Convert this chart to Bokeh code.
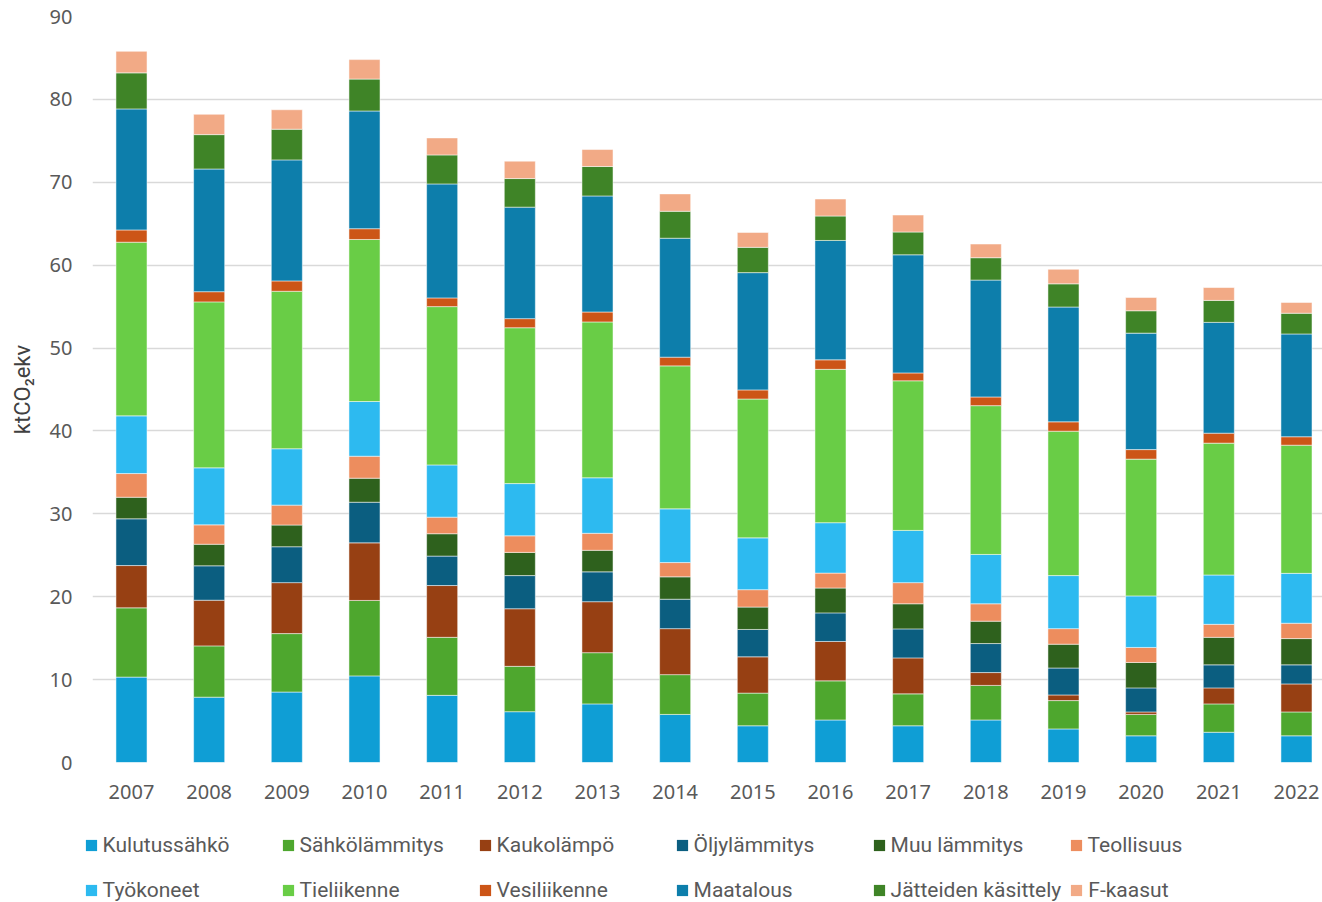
from bokeh.plotting import figure
from bokeh.layouts import column
from bokeh.models import Range1d, FixedTicker, Legend, LegendItem, ColumnDataSource
from bokeh.embed import file_html
from bokeh.resources import INLINE

years = ["2007", "2008", "2009", "2010", "2011", "2012", "2013", "2014",
         "2015", "2016", "2017", "2018", "2019", "2020", "2021", "2022"]

kulutussahko   = [10.3, 7.88, 8.5, 10.45, 8.1, 6.13, 7.07, 5.8, 4.43, 5.13, 4.43, 5.13, 4.05, 3.22, 3.65, 3.22]
sahkolammitys  = [8.36, 6.19, 7.05, 9.1, 7.0, 5.47, 6.18, 4.8, 3.94, 4.72, 3.85, 4.17, 3.42, 2.58, 3.42, 2.88]
kaukolampo     = [5.1, 5.51, 6.15, 6.95, 6.25, 6.95, 6.15, 5.55, 4.38, 4.75, 4.34, 1.55, 0.68, 0.3, 1.93, 3.38]
oljylammitys   = [5.64, 4.15, 4.33, 4.9, 3.55, 4.0, 3.6, 3.55, 3.3, 3.45, 3.5, 3.5, 3.25, 2.9, 2.78, 2.3]
muu_lammitys   = [2.6, 2.6, 2.62, 2.9, 2.7, 2.8, 2.6, 2.7, 2.7, 3.0, 3.03, 2.7, 2.87, 3.07, 3.32, 3.17]
teollisuus     = [2.86, 2.34, 2.4, 2.65, 2.0, 2.0, 2.05, 1.72, 2.1, 1.8, 2.55, 2.1, 1.88, 1.81, 1.57, 1.85]
tyokoneet      = [6.96, 6.88, 6.8, 6.6, 6.3, 6.3, 6.7, 6.48, 6.25, 6.08, 6.3, 5.95, 6.4, 6.22, 5.95, 6.02]
tieliikenne    = [20.95, 20.02, 19.0, 19.55, 19.1, 18.8, 18.8, 17.25, 16.75, 18.5, 18.05, 17.95, 17.42, 16.5, 15.91, 15.46]
vesiliikenne   = [1.48, 1.23, 1.25, 1.3, 1.05, 1.1, 1.2, 1.05, 1.1, 1.15, 0.95, 1.05, 1.13, 1.15, 1.2, 1.02]
maatalous      = [14.6, 14.8, 14.6, 14.2, 13.75, 13.45, 14.0, 14.35, 14.15, 14.4, 14.25, 14.1, 13.85, 14.05, 13.37, 12.4]
jatteiden      = [4.35, 4.15, 3.7, 3.85, 3.5, 3.45, 3.55, 3.25, 3.05, 2.95, 2.75, 2.7, 2.8, 2.7, 2.65, 2.5]
f_kaasut       = [2.6, 2.45, 2.35, 2.35, 2.05, 2.1, 2.05, 2.1, 1.8, 2.05, 2.05, 1.65, 1.75, 1.6, 1.55, 1.3]

series_names = ["Kulutussähkö", "Sähkölämmitys", "Kaukolämpö", "Öljylämmitys", "Muu lämmitys",
                "Teollisuus", "Työkoneet", "Tieliikenne", "Vesiliikenne", "Maatalous",
                "Jätteiden käsittely", "F-kaasut"]
series_values = [kulutussahko, sahkolammitys, kaukolampo, oljylammitys, muu_lammitys, teollisuus,
                 tyokoneet, tieliikenne, vesiliikenne, maatalous, jatteiden, f_kaasut]
colors = ["#0F9ED5", "#4EA72E", "#974013", "#0B5E80", "#2E611D", "#ED8D5E",
          "#2DBAF0", "#69CD46", "#CC5517", "#0D7EAB", "#3F8427", "#F2AA86"]
y_ticks = [0, 10, 20, 30, 40, 50, 60, 70, 80, 90]

keys = ["s%d" % i for i in range(len(series_names))]
data = {"x": list(range(len(years)))}
for k, v in zip(keys, series_values):
    data[k] = v
source = ColumnDataSource(data)

# ---- main chart ----
p = figure(width=1322, height=810, output_backend="svg", toolbar_location=None,
           x_range=Range1d(-0.502, 15.335), y_range=Range1d(0, 90),
           min_border_left=92, min_border_right=0, min_border_top=16, min_border_bottom=48)
p.outline_line_color = None
p.background_fill_color = "white"
p.border_fill_color = "white"
p.frame_align = False

p.vbar_stack(keys, x="x", width=0.4, color=colors, source=source,
             line_color="white", line_width=1, line_alpha=0.5)

p.xaxis.ticker = FixedTicker(ticks=list(range(len(years))))
p.xaxis.major_label_overrides = {i: y for i, y in enumerate(years)}
p.yaxis.ticker = FixedTicker(ticks=y_ticks)
for ax in (p.xaxis[0], p.yaxis[0]):
    ax.axis_line_color = None
    ax.major_tick_line_color = None
    ax.minor_tick_line_color = None
    ax.major_tick_out = 0
    ax.major_tick_in = 0
    ax.major_label_text_font = "Noto Sans"
    ax.major_label_text_font_size = "20px"
    ax.major_label_text_color = "#595959"
p.xaxis.major_label_standoff = 22
p.yaxis.major_label_standoff = 20
p.yaxis.axis_label = "ktCO₂ekv"
p.yaxis.axis_label_text_font = "Roboto"
p.yaxis.axis_label_text_font_style = "normal"
p.yaxis.axis_label_text_font_size = "22px"
p.yaxis.axis_label_text_color = "#404040"
p.yaxis.axis_label_standoff = 12

p.xgrid.visible = False
p.ygrid.ticker = FixedTicker(ticks=y_ticks)
p.ygrid.grid_line_color = "#D9D9D9"
p.ygrid.grid_line_width = 1.5

# ---- legend strip (legend proxies share the data but are not drawn) ----
lf = figure(width=1322, height=92, output_backend="svg", toolbar_location=None,
            x_axis_location=None, y_axis_location=None,
            x_range=Range1d(100, 101), y_range=Range1d(0, 1),
            min_border_left=0, min_border_right=0, min_border_top=0, min_border_bottom=0)
lf.outline_line_color = None
lf.grid.visible = False
lf.border_fill_color = "white"
lf.frame_align = False

proxies = lf.vbar_stack(keys, x="x", width=0.4, color=colors, source=source, line_color=None)
for r in proxies:
    r.visible = False

items = [LegendItem(label=n, renderers=[r]) for n, r in zip(series_names, proxies)]

def make_legend(its, yloc):
    return Legend(items=its, location=(83.6, yloc), orientation="horizontal",
                  glyph_width=14, glyph_height=14, label_standoff=5, label_width=170,
                  label_height=20, spacing=8, padding=0, margin=0,
                  border_line_color=None, background_fill_alpha=0,
                  label_text_font="Roboto", label_text_font_size="21px",
                  label_text_color="#595959", click_policy="none")

lf.add_layout(make_legend(items[:6], 45))
lf.add_layout(make_legend(items[6:], 0))

layout = column(p, lf, spacing=0)
open("out.html", "w").write(file_html(layout, INLINE))
